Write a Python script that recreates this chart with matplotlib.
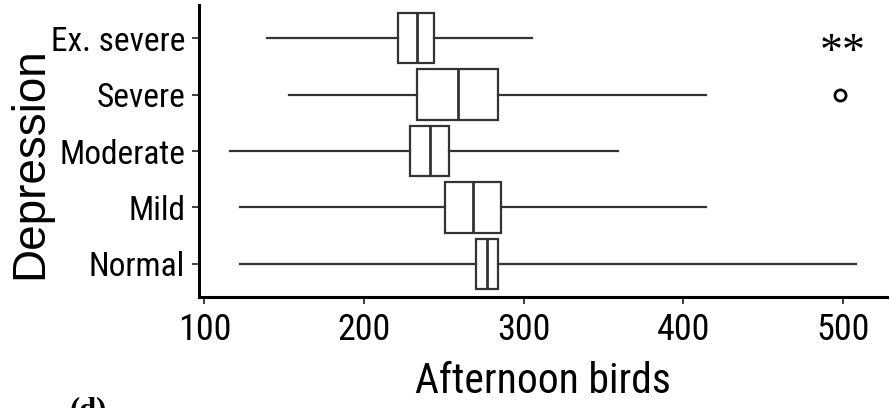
import matplotlib
matplotlib.use("Agg")
import matplotlib.pyplot as plt

# box statistics (Afternoon birds by depression level)
groups = ["Normal", "Mild", "Moderate", "Severe", "Ex. severe"]
whisker_lo = [122, 122, 116, 153, 139]
q1 = [270, 251, 229, 233, 221.5]
medians = [277, 268.5, 241.5, 259, 233]
q3 = [284, 286, 253, 284, 244]
whisker_hi = [508, 414, 359, 414, 305]
outliers = [[], [], [], [498], []]
x_ticks = [100, 200, 300, 400, 500]

narrow = ["Roboto Condensed", "Archivo Narrow", "Liberation Sans", "DejaVu Sans"]
serif = ["Liberation Serif", "DejaVu Serif"]
line_col = "#333333"

fig = plt.figure(figsize=(8.9, 4.08), dpi=100)
ax = fig.add_axes([0.2236, 0.2721, 0.773, 0.7156])

stats = []
for i in range(len(groups)):
    stats.append({
        "whislo": whisker_lo[i], "q1": q1[i], "med": medians[i],
        "q3": q3[i], "whishi": whisker_hi[i], "fliers": outliers[i],
    })

ax.bxp(stats, positions=range(1, len(groups) + 1), vert=False, widths=0.9,
       showcaps=False, patch_artist=True,
       boxprops=dict(facecolor="white", edgecolor=line_col, linewidth=1.6),
       medianprops=dict(color=line_col, linewidth=2.0),
       whiskerprops=dict(color=line_col, linewidth=1.6),
       flierprops=dict(marker="o", markersize=8, markerfacecolor="none",
                       markeredgecolor="black", markeredgewidth=2.0))

ax.set_xlim(96.6, 527.6)
ax.set_ylim(0.416, 5.584)
ax.set_xticks(x_ticks)
ax.set_xticklabels([str(t) for t in x_ticks], family=narrow, fontsize=26)
ax.set_yticks(range(1, len(groups) + 1))
ax.set_yticklabels(groups, family=narrow, fontsize=24)

for s in ["top", "right"]:
    ax.spines[s].set_visible(False)
for s in ["left", "bottom"]:
    ax.spines[s].set_linewidth(2.2)
    ax.spines[s].set_color("black")
ax.tick_params(axis="both", length=5, width=1.3, color="#333333")
ax.tick_params(axis="x", pad=6)
ax.tick_params(axis="y", pad=5)

ax.set_xlabel("Afternoon birds", family=narrow, fontsize=30, labelpad=9)
ax.set_ylabel("Depression", family=["Liberation Sans", "DejaVu Sans"],
              fontsize=33, va="center")
ax.yaxis.set_label_coords(-0.245, 0.46)

# significance marks and panel letter
ax.text(500, 4.72, "**", family=serif, fontsize=33, ha="center", va="center")
fig.text(88 / 890, 1 - 396 / 408, "(d)", family=serif,
         fontsize=22, fontweight="bold", ha="center", va="top")

fig.savefig("out.png", dpi=100)
